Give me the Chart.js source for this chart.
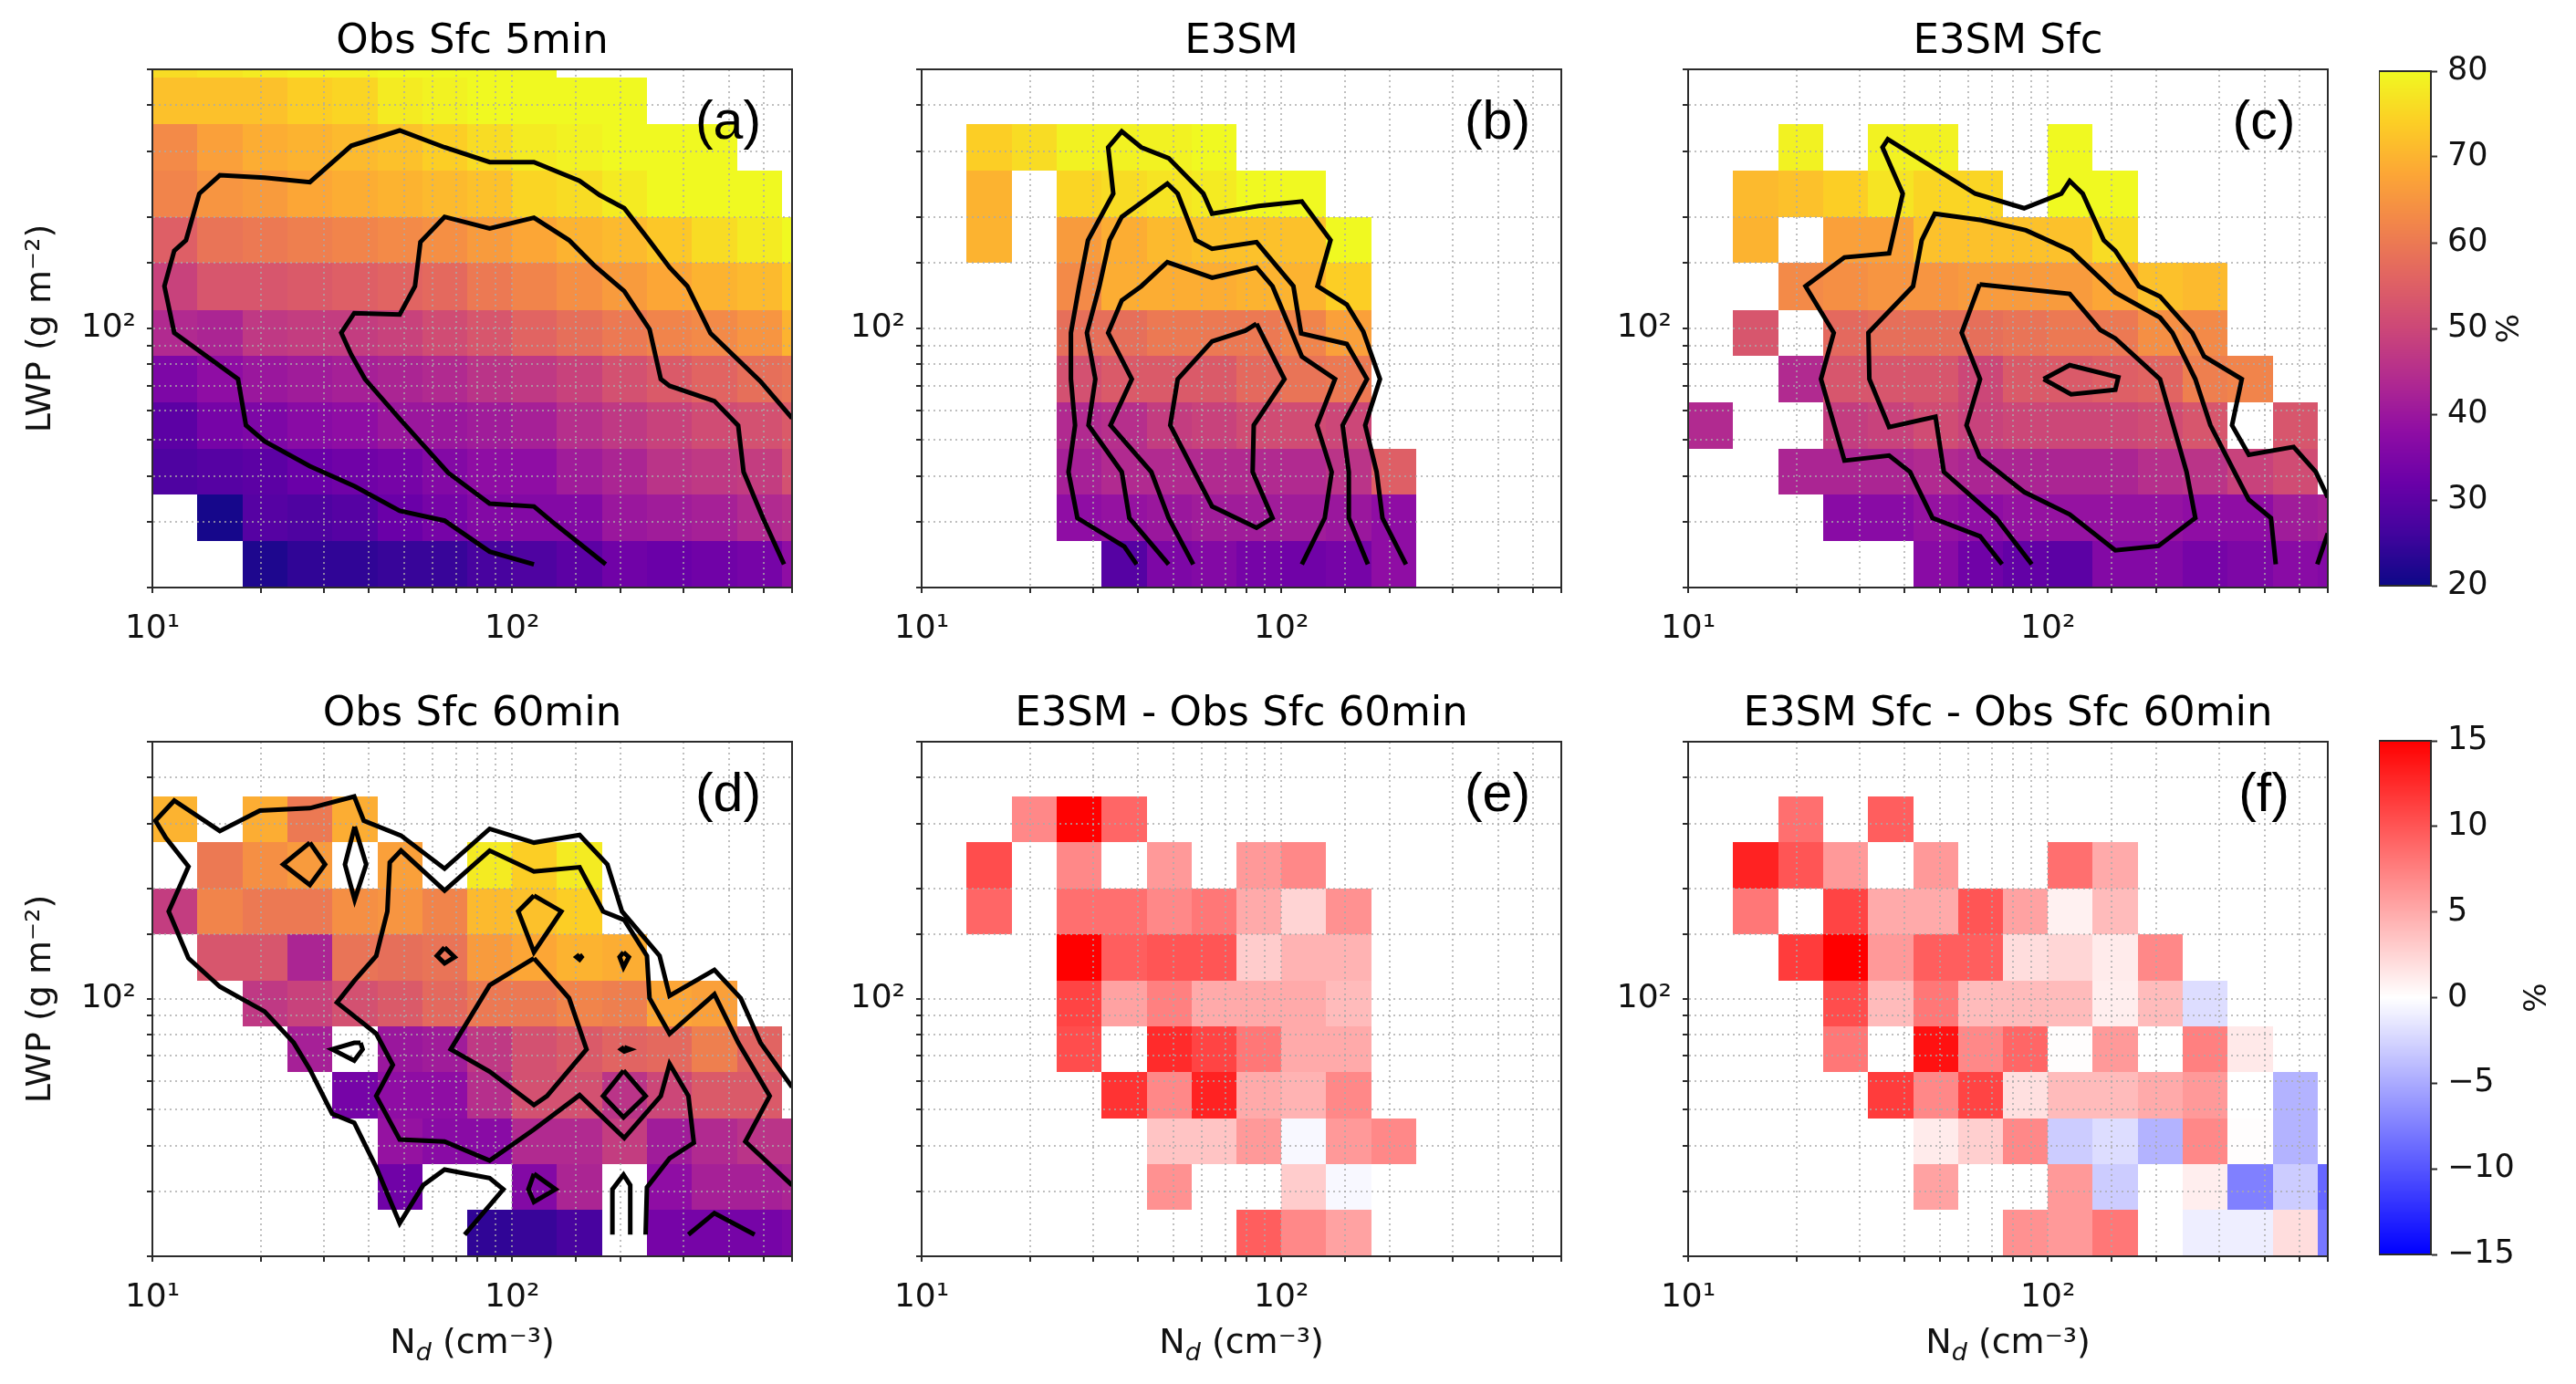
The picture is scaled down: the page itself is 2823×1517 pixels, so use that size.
<!DOCTYPE html>
<html>
<head>
<meta charset="utf-8">
<title>LWP vs Nd</title>
<script src="https://cdn.jsdelivr.net/npm/chart.js@4"></script>
<style>
    body { margin: 0; background: #fff; }
    canvas { position: absolute; }
</style>
</head>
<body>
<script>
const _ = null;
// bin edges shared by all panels
const xEdges = [10, 13.3, 17.8, 23.7, 31.6, 42.2, 56.2, 75, 100, 133, 178, 237, 316, 422, 562, 750];
const yEdges = [20, 26.7, 35.6, 47.4, 63.2, 84.3, 112, 150, 200, 267, 356, 474, 632];

// cell values, rows from the bottom of the panel up
const obs5min = [
    [_, _, 22, 24, 24, 25, 25, 27, 28, 30, 33, 32, 33, 34, 38],
    [_, 21, 29, 28, 29, 32, 34, 36, 36, 36, 40, 41, 42, 44, 45],
    [28, 29, 30, 32, 33, 34, 36, 38, 38, 41, 43, 46, 47, 48, 52],
    [30, 34, 35, 37, 38, 40, 40, 41, 42, 45, 47, 49, 51, 52, 54],
    [35, 38, 40, 41, 42, 43, 44, 46, 47, 49, 52, 54, 56, 58, 59],
    [44, 43, 47, 48, 48, 49, 51, 53, 56, 58, 60, 62, 63, 65, 70],
    [49, 53, 53, 54, 55, 56, 57, 60, 62, 64, 66, 68, 70, 71, 74],
    [55, 59, 60, 61, 62, 63, 64, 66, 68, 70, 71, 73, 76, 78, 80],
    [62, 65, 66, 68, 69, 70, 71, 72, 75, 76, 78, 80, 80, 80, _],
    [63, 67, 69, 70, 71, 72, 74, 76, 78, 79, 80, 80, 80, _, _],
    [72, 72, 72, 74, 75, 78, 79, 80, 80, 80, 80, _, _, _, _],
    [76, 77, 78, 79, 79, 80, 80, 80, 80, _, _, _, _, _, _]
];
const e3sm = [
    [_, _, _, _, 29, 35, 36, 34, 33, 34, 38, _, _, _, _],
    [_, _, _, 38, 39, 40, 41, 41, 41, 40, 38, _, _, _, _],
    [_, _, _, 42, 44, 44, 44, 44, 44, 46, 55, _, _, _, _],
    [_, _, _, 44, 45, 48, 49, 51, 51, 50, _, _, _, _, _],
    [_, _, _, 52, 54, 54, 54, 57, 59, 60, _, _, _, _, _],
    [_, _, _, 58, 58, 60, 60, 60, 62, 67, _, _, _, _, _],
    [_, _, _, 63, 69, 69, 69, 70, 70, 74, _, _, _, _, _],
    [_, 70, _, 66, 69, 71, 72, 72, 72, 80, _, _, _, _, _],
    [_, 70, _, 75, 76, 77, 78, 80, 80, _, _, _, _, _, _],
    [_, 74, 76, 79, 79, 79, 80, _, _, _, _, _, _, _, _]
];
const e3smSfc = [
    [_, _, _, _, _, 37, 33, 31, 30, 36, 36, 34, 35, 37, 36],
    [_, _, _, 37, 37, 39, 38, 39, 39, 39, 39, 38, 38, 41, 42],
    [_, _, 43, 43, 43, 44, 43, 43, 43, 43, 45, 46, 49, 51, _],
    [44, _, _, 48, 49, 51, 49, 50, 50, 50, 51, 53, _, 53, _],
    [_, _, 44, 53, 53, 53, 50, 54, 54, 55, 56, 61, 62, _, _],
    [_, 53, _, 57, 58, 58, 58, 59, 60, 60, 64, 63, _, _, _],
    [_, _, 63, 64, 65, 65, 66, 66, 66, 68, 72, 71, _, _, _],
    [_, 70, _, 67, 67, 72, 72, 72, 72, 76, _, _, _, _, _],
    [_, 71, 72, 74, 77, 75, 75, _, 80, 80, _, _, _, _, _],
    [_, _, 79, _, 79, 79, _, _, 80, _, _, _, _, _, _]
];
const obs60min = [
    [_, _, _, _, _, _, _, 24, 25, 27, _, 34, 34, 34, 35],
    [_, _, _, _, _, 33, _, _, 36, 43, _, 38, 42, 42, 43],
    [_, _, _, _, _, 39, 37, 37, 44, 44, 48, 41, 44, 46, 46],
    [_, _, _, _, 34, 38, 38, 45, 52, 52, 46, 50, 54, 54, _],
    [_, _, _, 42, _, 40, 41, 47, 52, 54, 56, 57, 61, 56, _],
    [_, _, 47, 49, 52, 54, 57, 60, 60, 62, 61, 68, 67, _, _],
    [_, 53, 53, 43, 59, 58, 59, 66, 68, 70, 69, _, _, _, _],
    [48, 62, 60, 60, 64, 65, 62, 71, 72, 74, _, _, _, _, _],
    [_, 60, 64, 66, _, 67, _, 78, 74, 78, _, _, _, _, _],
    [70, _, 69, 60, 69, _, _, _, _, _, _, _, _, _, _]
];
const diffE3sm = [
    [_, _, _, _, _, _, _, 9.5, 7, 5.5, _, _, _, _, _],
    [_, _, _, _, _, 6.5, _, _, 3, -0.4, _, _, _, _, _],
    [_, _, _, _, _, 3.5, 3.5, 6, -0.4, 6, 7, _, _, _, _],
    [_, _, _, _, 12, 7, 13, 5, 4.5, 7, _, _, _, _, _],
    [_, _, _, 10.5, _, 12.5, 11, 8, 5, 5, _, _, _, _, _],
    [_, _, _, 11, 5.5, 7.5, 5, 5, 5, 4, _, _, _, _, _],
    [_, _, _, 15, 9.5, 10, 10, 3, 4.5, 4.5, _, _, _, _, _],
    [_, 9, _, 8.5, 8.5, 7, 8, 5, 2.5, 6.5, _, _, _, _, _],
    [_, 10.5, _, 7, _, 6, _, 6, 7, _, _, _, _, _, _],
    [_, _, 7, 15, 9, _, _, _, _, _, _, _, _, _, _]
];
const diffE3smSfc = [
    [_, _, _, _, _, _, _, 6.5, 6, 8, _, -1, -1, 2, -8],
    [_, _, _, _, _, 5.5, _, _, 6, -3, _, 1, -7.5, -3, -9],
    [_, _, _, _, _, 1.2, 2.8, 7, -3, -2, -4.5, 7, 0.1, -4.5, _],
    [_, _, _, _, 11.5, 7, 11, 1.8, 4, 4, 5, 6, _, -4.5, _],
    [_, _, _, 8, _, 14, 7, 9, 0.1, 6, _, 7.5, 1.3, _, _],
    [_, _, _, 10.5, 4, 8, 4, 4, 4, 1, 4, -2, _, _, _],
    [_, _, 11.5, 15, 6, 9.5, 9.5, 2, 2.4, 1.2, 7, _, _, _, _],
    [_, 8, _, 11, 5, 5, 10, 5.5, 0.8, 4, _, _, _, _, _],
    [_, 13, 10, 6, _, 6, _, _, 8.5, 5, _, _, _, _, _],
    [_, _, 8.5, _, 9.5, _, _, _, _, _, _, _, _, _, _]
];

// contour lines as [Nd, LWP]
const contoursA = [
    [[115,23.1],[86.6,25],[64.9,30.3],[48.7,32.2],[36.5,37.5],[27.4,42.5],[20.5,49.6],[18.2,54.8],[17.3,73],[11.5,97.3],[10.8,130],[11.5,162],[12.4,173],[13.5,231],[15.4,259],[20.5,255],[27.4,248],[35.7,311],[48.7,342],[64.9,308],[86.6,281],[115,281],[154,250],[175,229],[205,211],[237,176],[274,146],[307,130],[356,97],[490,72],[600,57.3]],
    [[182,23.1],[132,29.6],[115,33.1],[86.6,33.7],[66.4,40.8],[48.7,57],[39,73],[35.7,85],[33.5,97.3],[36.4,110],[48.7,109],[53.7,130],[55.6,171],[64.9,200],[86.6,186],[115,199],[144,173],[169,148],[205,126],[241,99.5],[259,73],[274,70],[365,63.7],[425,54.7],[440,41],[498,30.8],[570,23.1]]
];
const contoursB = [
    [[39.6,23.1],[36.6,25.8],[27.1,30.8],[25.6,41],[26.7,54.8],[26,73],[26,97.3],[27.4,130],[29,173],[34.1,231],[33,308],[36,340],[40.8,308],[48.6,288],[60.7,231],[64.2,204],[86.5,214],[114,220],[137,173],[126,130],[152,116],[169,98],[188,73],[171,54.8],[184,41],[191,30.8],[222,23.1]],
    [[48.6,23.1],[37.8,30.8],[36,41],[29.1,54.8],[30.4,73],[28.8,97.3],[31.2,130],[33.3,173],[36,200],[48.2,246],[51.5,231],[57.8,173],[64.2,164],[85.3,171],[108,130],[113.5,97],[152,90.8],[173,73],[148,54.8],[154,41],[154,30.8],[174,23.1]],
    [[56.9,23.1],[48.6,30.8],[43.5,41],[33.5,54.8],[38.4,73],[33,97.3],[36,119],[40.8,130],[48.2,151],[64.2,137],[85.3,146],[94.5,130],[114,84],[141,73],[125.6,54.8],[138,41],[132,30.8],[114,23.1]],
    [[85.3,103],[79.4,98.6],[64.2,92.3],[51.5,73],[49.1,54.8],[64.2,33.1],[85.3,29],[94.5,30.8],[83.2,41],[83.8,54.8],[102,73],[85.3,103]]
];
const contoursC = [
    [[74.6,23.1],[64.8,27.5],[47.8,30.8],[41.4,41],[36.2,45.4],[27.2,44],[23.4,73],[25.4,97.3],[21.2,130],[27.2,155.5],[36.2,159.5],[39.5,231],[34.7,308],[35.9,324],[62.8,231],[85.9,211],[109,231],[115,250],[125,231],[143,173],[154,162],[179,130],[205,122],[252,97.3],[272,84],[346,73],[325,54.8],[362,45.6],[482,47.9],[556,41],[600,35]],
    [[561,23.1],[600,28]],
    [[90.2,23.1],[71.8,30.8],[51.4,41],[48.7,57.8],[36.2,54.2],[31.9,73],[31.7,97.3],[42.2,130],[44.6,173],[48.5,204],[65.3,196],[86.9,184],[116,162],[154,125],[205,107],[222,97.3],[257,73],[283,54.8],[362,34.5],[417,30.8],[430,23.1]],
    [[64.6,131.5],[115,124],[140,99],[154,94],[205,73],[243,41],[257,30.8],[203,25.9],[154,25.2],[115,31.5],[85.9,36.2],[64.6,45],[59.4,54.8],[64.8,73],[57.6,97.3],[64.6,131.5]],
    [[97.3,73],[115,79.6],[157,73.8],[154,68.3],[116,66.4],[97.3,73]]
];
const contoursD = [
    [[73.8,22.9],[94.5,30.4],[86.6,32.6],[64.9,34.4],[56.6,31.2],[48.7,24.6],[41.9,34.9],[36.4,46.1],[31.6,48.8],[27.4,64.4],[24.7,76.1],[20.5,92.5],[15.4,108],[12.6,129],[11.1,173],[12.6,229],[10.9,274],[10.2,305],[11.5,346],[15.4,286],[19.9,325],[27.4,330],[36.4,355],[38.7,305],[49.1,278],[64.9,226],[86.6,290],[115,266],[154,279],[184,232],[202,173],[257,131],[274,102],[365,120],[432,100.5],[490,76.1],[600,57.6]],
    [[235,22.9],[237,30.8],[274,36.9],[320,40.7],[309,54.5],[274,66.6],[259,54.5],[205,41.9],[154,54.8],[115,44.2],[86.6,36.4],[64.9,41],[48.7,41.5],[41.9,54.5],[46.6,66.2],[41.9,80.5],[32.6,97.8],[36.4,112],[41.9,131],[45,173],[45.7,235],[49.1,253],[64.9,197],[86.6,253],[115,222],[154,228],[179,173],[205,164],[237,131],[241,100.5],[274,80.5],[365,103],[425,76.1],[520,54.5],[445,41],[600,31.2]],
    [[115,129],[144,100.5],[161,73],[125,54.5],[115,51.5],[86.6,63.5],[67.5,73],[86.6,109],[115,129]],
    [[27.4,266],[30.2,232],[27.4,204],[23.1,232],[27.4,266]],
    [[36.5,294],[39.3,232],[36.5,186],[34.3,232],[36.5,294]],
    [[115,191],[137,173],[115,134],[104,173],[115,191]],
    [[64.9,138],[69.2,130],[64.9,125],[61.8,131],[64.9,138]],
    [[154,132],[156,130],[154,128],[151,130],[154,132]],
    [[204,134],[211,130],[204,122],[199,130],[204,134]],
    [[205,74],[213,73],[205,72],[201,73],[205,74]],
    [[204,63.9],[235,54.5],[204,47.7],[179,54.5],[204,63.9]],
    [[37.9,76],[38.4,73],[36.4,68],[31.6,73],[36.4,76],[37.9,76]],
    [[115,33.5],[132,30.4],[115,28.1],[111,30.4],[115,33.5]],
    [[190,22.9],[190,30.4],[204,33.3],[213,31.2],[213,22.9]],
    [[309,22.9],[365,26.2],[472,22.9]]
];

const pctTicks = [20, 30, 40, 50, 60, 70, 80];
const diffTicks = [-15, -10, -5, 0, 5, 10, 15];

const plasmaStops = [[13,8,135],[65,4,157],[106,0,168],[143,13,164],[177,42,144],[204,71,120],[225,100,98],[241,132,75],[252,166,54],[252,206,37],[240,249,33]];
const bwrStops = [[0,0,255],[255,255,255],[255,0,0]];

function colorAt(stops, t) {
    t = Math.max(0, Math.min(1, t)) * (stops.length - 1);
    const i = Math.min(Math.floor(t), stops.length - 2), f = t - i;
    const c = stops[i].map((v, k) => Math.round(v + (stops[i + 1][k] - v) * f));
    return 'rgb(' + c.join(',') + ')';
}

const fontName = '"DejaVu Sans"';
const tickFont = { family: fontName, size: 36 };
const gridColor = 'rgba(170,170,170,0.75)';
const axisColor = '#2b2b2b';
Chart.defaults.font.family = fontName;
Chart.defaults.color = '#111';

function drawNdLabel(ctx, cx, y) {
    const big = '38px ' + fontName, small = '27px ' + fontName;
    const tail = ' (cm\u207B\u00B3)';
    ctx.font = big;
    const wN = ctx.measureText('N').width, wT = ctx.measureText(tail).width;
    ctx.font = 'italic ' + small;
    const wD = ctx.measureText('d').width;
    let x = cx - (wN + wD + wT) / 2;
    ctx.textAlign = 'left';
    ctx.textBaseline = 'alphabetic';
    ctx.font = big;
    ctx.fillText('N', x, y);
    x += wN;
    ctx.font = 'italic ' + small;
    ctx.fillText('d', x, y + 8);
    x += wD;
    ctx.font = big;
    ctx.fillText(tail, x, y);
}

function makePanel(id, cfg) {
    const pad = { left: 150, top: 76, right: 150, bottom: 140 };
    const canvas = document.createElement('canvas');
    canvas.id = id;
    canvas.width = pad.left + 701 + pad.right;
    canvas.height = pad.top + cfg.h + pad.bottom;
    canvas.style.left = (cfg.left - pad.left) + 'px';
    canvas.style.top = (cfg.top - pad.top) + 'px';
    document.body.appendChild(canvas);

    const decor = {
        id: 'decor',
        beforeDraw(chart) {
            const { ctx, chartArea: a, scales: { x, y } } = chart;
            ctx.save();
            ctx.beginPath();
            ctx.rect(a.left, a.top, a.width, a.height);
            ctx.clip();
            cfg.cells.forEach((row, r) => row.forEach((v, c) => {
                if (v === null) return;
                const x0 = Math.round(x.getPixelForValue(xEdges[c]));
                const x1 = Math.round(x.getPixelForValue(xEdges[c + 1]));
                const y0 = Math.round(y.getPixelForValue(yEdges[r]));
                const y1 = Math.round(y.getPixelForValue(yEdges[r + 1]));
                ctx.fillStyle = cfg.color(v);
                ctx.fillRect(x0, y1, x1 - x0, y0 - y1);
            }));
            ctx.restore();
        },
        afterDraw(chart) {
            const { ctx, chartArea: a } = chart;
            ctx.save();
            ctx.strokeStyle = axisColor;
            ctx.lineWidth = 2;
            ctx.strokeRect(a.left, a.top, a.width, a.height);
            ctx.fillStyle = '#000';
            ctx.font = '59px "Liberation Sans"';
            ctx.textAlign = 'center';
            ctx.textBaseline = 'middle';
            ctx.fillText(cfg.tag, a.left + 631, a.top + 60);
            if (cfg.xlabel) {
                ctx.fillStyle = '#111';
                drawNdLabel(ctx, (a.left + a.right) / 2, a.bottom + 106);
            }
            ctx.restore();
        }
    };

    new Chart(canvas, {
        type: 'scatter',
        data: {
            datasets: cfg.contours.map(line => ({
                data: line.map(p => ({ x: p[0], y: p[1] })),
                showLine: true,
                borderColor: '#000',
                borderWidth: 5,
                pointRadius: 0,
                tension: 0
            }))
        },
        plugins: [decor],
        options: {
            responsive: false,
            animation: false,
            devicePixelRatio: 1,
            plugins: {
                legend: { display: false },
                tooltip: { enabled: false },
                title: {
                    display: true,
                    text: cfg.title,
                    color: '#000',
                    font: { family: fontName, size: 45, weight: 'normal' },
                    padding: { top: 19, bottom: 3 }
                }
            },
            scales: {
                x: {
                    type: 'logarithmic',
                    min: 10,
                    max: 600,
                    afterFit(s) { s.height = pad.bottom; },
                    border: { display: true, color: axisColor, width: 2, dash: [2, 4] },
                    grid: { color: gridColor, lineWidth: 2, tickColor: axisColor, tickWidth: 2, tickLength: 6 },
                    ticks: {
                        autoSkip: false,
                        maxRotation: 0,
                        padding: 18,
                        color: '#111',
                        font: tickFont,
                        callback: v => (v === 10 ? '10\u00B9' : v === 100 ? '10\u00B2' : '')
                    }
                },
                y: {
                    type: 'logarithmic',
                    min: 20,
                    max: 500,
                    afterFit(s) { s.width = pad.left; },
                    border: { display: true, color: axisColor, width: 2, dash: [2, 4] },
                    grid: { color: gridColor, lineWidth: 2, tickColor: axisColor, tickWidth: 2, tickLength: 6 },
                    title: {
                        display: cfg.ylabel,
                        text: 'LWP (g m\u207B\u00B2)',
                        color: '#111',
                        font: { family: fontName, size: 38 },
                        padding: { top: 5, bottom: 0 }
                    },
                    ticks: {
                        autoSkip: false,
                        padding: 12,
                        color: '#111',
                        font: tickFont,
                        callback: v => (v === 100 ? '10\u00B2' : '')
                    }
                },
                // empty axis on the right so the title centres over the plot area
                spacer: {
                    type: 'linear',
                    position: 'right',
                    afterFit(s) { s.width = pad.right; },
                    border: { display: false },
                    grid: { display: false },
                    ticks: { display: false }
                }
            }
        }
    });
}

function makeColorbar(id, cfg) {
    const vpad = 30;
    const canvas = document.createElement('canvas');
    canvas.id = id;
    canvas.width = 57 + 170;
    canvas.height = cfg.h + vpad * 2;
    canvas.style.left = '2607px';
    canvas.style.top = (cfg.top - vpad) + 'px';
    document.body.appendChild(canvas);

    const lo = cfg.ticks[0], hi = cfg.ticks[cfg.ticks.length - 1];
    const barPlugin = {
        id: 'bar',
        beforeDraw(chart) {
            const { ctx, chartArea: a, scales: { y } } = chart;
            for (let p = Math.floor(a.top); p < a.bottom; p++) {
                const v = y.getValueForPixel(p + 0.5);
                ctx.fillStyle = colorAt(cfg.stops, (v - lo) / (hi - lo));
                ctx.fillRect(a.left, p, a.width, 1);
            }
        },
        afterDraw(chart) {
            const { ctx, chartArea: a } = chart;
            ctx.save();
            ctx.strokeStyle = axisColor;
            ctx.lineWidth = 2;
            ctx.strokeRect(a.left, a.top, a.width, a.height);
            ctx.translate(cfg.unitX - 2607, (a.top + a.bottom) / 2);
            ctx.rotate(-Math.PI / 2);
            ctx.fillStyle = '#111';
            ctx.font = '34px ' + fontName;
            ctx.textAlign = 'center';
            ctx.textBaseline = 'middle';
            ctx.fillText('%', 0, 0);
            ctx.restore();
        }
    };

    new Chart(canvas, {
        type: 'scatter',
        data: { datasets: [] },
        plugins: [barPlugin],
        options: {
            responsive: false,
            animation: false,
            devicePixelRatio: 1,
            layout: { padding: { top: vpad, bottom: vpad } },
            plugins: { legend: { display: false }, tooltip: { enabled: false } },
            scales: {
                x: { display: false },
                y: {
                    type: 'linear',
                    position: 'right',
                    min: lo,
                    max: hi,
                    afterFit(s) { s.width = 170; },
                    afterBuildTicks(s) { s.ticks = cfg.ticks.map(v => ({ value: v })); },
                    border: { display: true, color: axisColor, width: 2 },
                    grid: { drawOnChartArea: false, tickColor: axisColor, tickWidth: 2, tickLength: 7 },
                    ticks: {
                        autoSkip: false,
                        padding: 11,
                        color: '#111',
                        font: { family: fontName, size: 35 },
                        callback: v => String(v).replace('-', '\u2212')
                    }
                }
            }
        }
    });
}

const plasmaColor = v => colorAt(plasmaStops, (v - 20) / 60);
const bwrColor = v => colorAt(bwrStops, (v + 15) / 30);

const topRow = { top: 76, h: 568 };
const botRow = { top: 813, h: 564 };
const colLeft = [167, 1010, 1850];

makePanel('panelA', { ...topRow, left: colLeft[0], title: 'Obs Sfc 5min', tag: '(a)', cells: obs5min, contours: contoursA, color: plasmaColor, ylabel: true });
makePanel('panelB', { ...topRow, left: colLeft[1], title: 'E3SM', tag: '(b)', cells: e3sm, contours: contoursB, color: plasmaColor, ylabel: false });
makePanel('panelC', { ...topRow, left: colLeft[2], title: 'E3SM Sfc', tag: '(c)', cells: e3smSfc, contours: contoursC, color: plasmaColor, ylabel: false });
makePanel('panelD', { ...botRow, left: colLeft[0], title: 'Obs Sfc 60min', tag: '(d)', cells: obs60min, contours: contoursD, color: plasmaColor, ylabel: true, xlabel: true });
makePanel('panelE', { ...botRow, left: colLeft[1], title: 'E3SM - Obs Sfc 60min', tag: '(e)', cells: diffE3sm, contours: [], color: bwrColor, ylabel: false, xlabel: true });
makePanel('panelF', { ...botRow, left: colLeft[2], title: 'E3SM Sfc - Obs Sfc 60min', tag: '(f)', cells: diffE3smSfc, contours: [], color: bwrColor, ylabel: false, xlabel: true });

makeColorbar('barTop', { top: 76, h: 568, ticks: pctTicks, stops: plasmaStops, unitX: 2751 });
makeColorbar('barBot', { top: 810, h: 567, ticks: diffTicks, stops: bwrStops, unitX: 2781 });
</script>
</body>
</html>
